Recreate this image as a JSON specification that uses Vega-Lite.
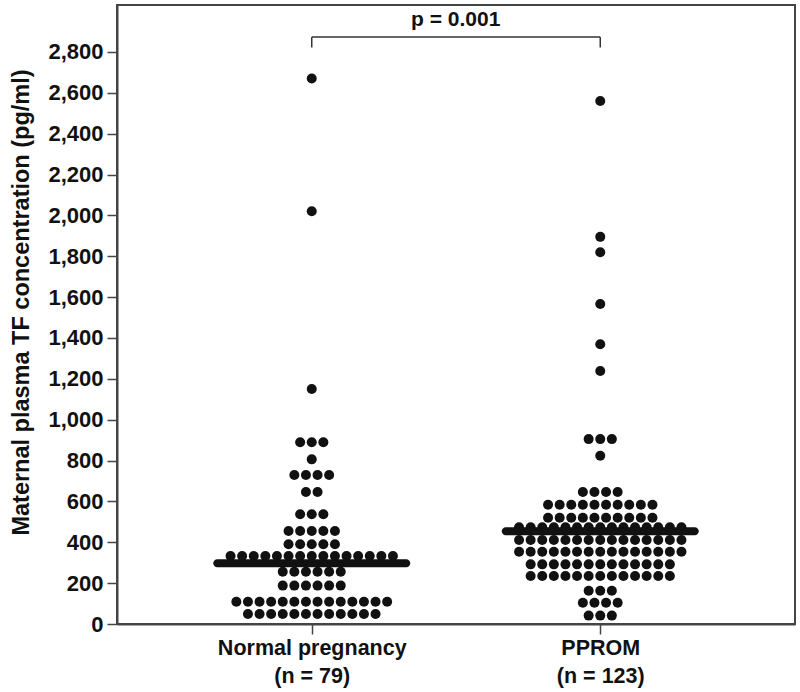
{
  "$schema": "https://vega.github.io/schema/vega-lite/v6.json",
  "width": 678,
  "height": 619,
  "autosize": {"type": "none"},
  "padding": {"left": 117, "top": 5, "right": 5, "bottom": 68},
  "background": "white",
  "config": {
    "view": {"stroke": "#444", "strokeWidth": 2},
    "font": "Liberation Sans"
  },
  "datasets": {
    "dots": [
      {"g": "Normal pregnancy", "v": 2670, "s": 0},
      {"g": "Normal pregnancy", "v": 2020, "s": 0},
      {"g": "Normal pregnancy", "v": 1150, "s": 0},
      {"g": "Normal pregnancy", "v": 890, "s": -1},
      {"g": "Normal pregnancy", "v": 890, "s": 0},
      {"g": "Normal pregnancy", "v": 890, "s": 1},
      {"g": "Normal pregnancy", "v": 806, "s": 0},
      {"g": "Normal pregnancy", "v": 729, "s": -1.5},
      {"g": "Normal pregnancy", "v": 729, "s": -0.5},
      {"g": "Normal pregnancy", "v": 729, "s": 0.5},
      {"g": "Normal pregnancy", "v": 729, "s": 1.5},
      {"g": "Normal pregnancy", "v": 646, "s": -0.5},
      {"g": "Normal pregnancy", "v": 646, "s": 0.5},
      {"g": "Normal pregnancy", "v": 537, "s": -1},
      {"g": "Normal pregnancy", "v": 537, "s": 0},
      {"g": "Normal pregnancy", "v": 537, "s": 1},
      {"g": "Normal pregnancy", "v": 455, "s": -2},
      {"g": "Normal pregnancy", "v": 455, "s": -1},
      {"g": "Normal pregnancy", "v": 455, "s": 0},
      {"g": "Normal pregnancy", "v": 455, "s": 1},
      {"g": "Normal pregnancy", "v": 455, "s": 2},
      {"g": "Normal pregnancy", "v": 390, "s": -2},
      {"g": "Normal pregnancy", "v": 390, "s": -1},
      {"g": "Normal pregnancy", "v": 390, "s": 0},
      {"g": "Normal pregnancy", "v": 390, "s": 1},
      {"g": "Normal pregnancy", "v": 390, "s": 2},
      {"g": "Normal pregnancy", "v": 333, "s": -7},
      {"g": "Normal pregnancy", "v": 333, "s": -6},
      {"g": "Normal pregnancy", "v": 333, "s": -5},
      {"g": "Normal pregnancy", "v": 333, "s": -4},
      {"g": "Normal pregnancy", "v": 333, "s": -3},
      {"g": "Normal pregnancy", "v": 333, "s": -2},
      {"g": "Normal pregnancy", "v": 333, "s": -1},
      {"g": "Normal pregnancy", "v": 333, "s": 0},
      {"g": "Normal pregnancy", "v": 333, "s": 1},
      {"g": "Normal pregnancy", "v": 333, "s": 2},
      {"g": "Normal pregnancy", "v": 333, "s": 3},
      {"g": "Normal pregnancy", "v": 333, "s": 4},
      {"g": "Normal pregnancy", "v": 333, "s": 5},
      {"g": "Normal pregnancy", "v": 333, "s": 6},
      {"g": "Normal pregnancy", "v": 333, "s": 7},
      {"g": "Normal pregnancy", "v": 256, "s": -2.5},
      {"g": "Normal pregnancy", "v": 256, "s": -1.5},
      {"g": "Normal pregnancy", "v": 256, "s": -0.5},
      {"g": "Normal pregnancy", "v": 256, "s": 0.5},
      {"g": "Normal pregnancy", "v": 256, "s": 1.5},
      {"g": "Normal pregnancy", "v": 256, "s": 2.5},
      {"g": "Normal pregnancy", "v": 188, "s": -2.5},
      {"g": "Normal pregnancy", "v": 188, "s": -1.5},
      {"g": "Normal pregnancy", "v": 188, "s": -0.5},
      {"g": "Normal pregnancy", "v": 188, "s": 0.5},
      {"g": "Normal pregnancy", "v": 188, "s": 1.5},
      {"g": "Normal pregnancy", "v": 188, "s": 2.5},
      {"g": "Normal pregnancy", "v": 109, "s": -6.5},
      {"g": "Normal pregnancy", "v": 109, "s": -5.5},
      {"g": "Normal pregnancy", "v": 109, "s": -4.5},
      {"g": "Normal pregnancy", "v": 109, "s": -3.5},
      {"g": "Normal pregnancy", "v": 109, "s": -2.5},
      {"g": "Normal pregnancy", "v": 109, "s": -1.5},
      {"g": "Normal pregnancy", "v": 109, "s": -0.5},
      {"g": "Normal pregnancy", "v": 109, "s": 0.5},
      {"g": "Normal pregnancy", "v": 109, "s": 1.5},
      {"g": "Normal pregnancy", "v": 109, "s": 2.5},
      {"g": "Normal pregnancy", "v": 109, "s": 3.5},
      {"g": "Normal pregnancy", "v": 109, "s": 4.5},
      {"g": "Normal pregnancy", "v": 109, "s": 5.5},
      {"g": "Normal pregnancy", "v": 109, "s": 6.5},
      {"g": "Normal pregnancy", "v": 49, "s": -5.5},
      {"g": "Normal pregnancy", "v": 49, "s": -4.5},
      {"g": "Normal pregnancy", "v": 49, "s": -3.5},
      {"g": "Normal pregnancy", "v": 49, "s": -2.5},
      {"g": "Normal pregnancy", "v": 49, "s": -1.5},
      {"g": "Normal pregnancy", "v": 49, "s": -0.5},
      {"g": "Normal pregnancy", "v": 49, "s": 0.5},
      {"g": "Normal pregnancy", "v": 49, "s": 1.5},
      {"g": "Normal pregnancy", "v": 49, "s": 2.5},
      {"g": "Normal pregnancy", "v": 49, "s": 3.5},
      {"g": "Normal pregnancy", "v": 49, "s": 4.5},
      {"g": "Normal pregnancy", "v": 49, "s": 5.5},
      {"g": "PPROM", "v": 2560, "s": 0},
      {"g": "PPROM", "v": 1895, "s": 0},
      {"g": "PPROM", "v": 1820, "s": 0},
      {"g": "PPROM", "v": 1566, "s": 0},
      {"g": "PPROM", "v": 1369, "s": 0},
      {"g": "PPROM", "v": 1238, "s": 0},
      {"g": "PPROM", "v": 905, "s": -1},
      {"g": "PPROM", "v": 905, "s": 0},
      {"g": "PPROM", "v": 905, "s": 1},
      {"g": "PPROM", "v": 824, "s": 0},
      {"g": "PPROM", "v": 646, "s": -1.5},
      {"g": "PPROM", "v": 646, "s": -0.5},
      {"g": "PPROM", "v": 646, "s": 0.5},
      {"g": "PPROM", "v": 646, "s": 1.5},
      {"g": "PPROM", "v": 584, "s": -4.5},
      {"g": "PPROM", "v": 584, "s": -3.5},
      {"g": "PPROM", "v": 584, "s": -2.5},
      {"g": "PPROM", "v": 584, "s": -1.5},
      {"g": "PPROM", "v": 584, "s": -0.5},
      {"g": "PPROM", "v": 584, "s": 0.5},
      {"g": "PPROM", "v": 584, "s": 1.5},
      {"g": "PPROM", "v": 584, "s": 2.5},
      {"g": "PPROM", "v": 584, "s": 3.5},
      {"g": "PPROM", "v": 584, "s": 4.5},
      {"g": "PPROM", "v": 520, "s": -4.5},
      {"g": "PPROM", "v": 520, "s": -3.5},
      {"g": "PPROM", "v": 520, "s": -2.5},
      {"g": "PPROM", "v": 520, "s": -1.5},
      {"g": "PPROM", "v": 520, "s": -0.5},
      {"g": "PPROM", "v": 520, "s": 0.5},
      {"g": "PPROM", "v": 520, "s": 1.5},
      {"g": "PPROM", "v": 520, "s": 2.5},
      {"g": "PPROM", "v": 520, "s": 3.5},
      {"g": "PPROM", "v": 520, "s": 4.5},
      {"g": "PPROM", "v": 473, "s": -7},
      {"g": "PPROM", "v": 473, "s": -6},
      {"g": "PPROM", "v": 473, "s": -5},
      {"g": "PPROM", "v": 473, "s": -4},
      {"g": "PPROM", "v": 473, "s": -3},
      {"g": "PPROM", "v": 473, "s": -2},
      {"g": "PPROM", "v": 473, "s": -1},
      {"g": "PPROM", "v": 473, "s": 0},
      {"g": "PPROM", "v": 473, "s": 1},
      {"g": "PPROM", "v": 473, "s": 2},
      {"g": "PPROM", "v": 473, "s": 3},
      {"g": "PPROM", "v": 473, "s": 4},
      {"g": "PPROM", "v": 473, "s": 5},
      {"g": "PPROM", "v": 473, "s": 6},
      {"g": "PPROM", "v": 473, "s": 7},
      {"g": "PPROM", "v": 411, "s": -7},
      {"g": "PPROM", "v": 411, "s": -6},
      {"g": "PPROM", "v": 411, "s": -5},
      {"g": "PPROM", "v": 411, "s": -4},
      {"g": "PPROM", "v": 411, "s": -3},
      {"g": "PPROM", "v": 411, "s": -2},
      {"g": "PPROM", "v": 411, "s": -1},
      {"g": "PPROM", "v": 411, "s": 0},
      {"g": "PPROM", "v": 411, "s": 1},
      {"g": "PPROM", "v": 411, "s": 2},
      {"g": "PPROM", "v": 411, "s": 3},
      {"g": "PPROM", "v": 411, "s": 4},
      {"g": "PPROM", "v": 411, "s": 5},
      {"g": "PPROM", "v": 411, "s": 6},
      {"g": "PPROM", "v": 411, "s": 7},
      {"g": "PPROM", "v": 354, "s": -7},
      {"g": "PPROM", "v": 354, "s": -6},
      {"g": "PPROM", "v": 354, "s": -5},
      {"g": "PPROM", "v": 354, "s": -4},
      {"g": "PPROM", "v": 354, "s": -3},
      {"g": "PPROM", "v": 354, "s": -2},
      {"g": "PPROM", "v": 354, "s": -1},
      {"g": "PPROM", "v": 354, "s": 0},
      {"g": "PPROM", "v": 354, "s": 1},
      {"g": "PPROM", "v": 354, "s": 2},
      {"g": "PPROM", "v": 354, "s": 3},
      {"g": "PPROM", "v": 354, "s": 4},
      {"g": "PPROM", "v": 354, "s": 5},
      {"g": "PPROM", "v": 354, "s": 6},
      {"g": "PPROM", "v": 354, "s": 7},
      {"g": "PPROM", "v": 292, "s": -6},
      {"g": "PPROM", "v": 292, "s": -5},
      {"g": "PPROM", "v": 292, "s": -4},
      {"g": "PPROM", "v": 292, "s": -3},
      {"g": "PPROM", "v": 292, "s": -2},
      {"g": "PPROM", "v": 292, "s": -1},
      {"g": "PPROM", "v": 292, "s": 0},
      {"g": "PPROM", "v": 292, "s": 1},
      {"g": "PPROM", "v": 292, "s": 2},
      {"g": "PPROM", "v": 292, "s": 3},
      {"g": "PPROM", "v": 292, "s": 4},
      {"g": "PPROM", "v": 292, "s": 5},
      {"g": "PPROM", "v": 292, "s": 6},
      {"g": "PPROM", "v": 235, "s": -6},
      {"g": "PPROM", "v": 235, "s": -5},
      {"g": "PPROM", "v": 235, "s": -4},
      {"g": "PPROM", "v": 235, "s": -3},
      {"g": "PPROM", "v": 235, "s": -2},
      {"g": "PPROM", "v": 235, "s": -1},
      {"g": "PPROM", "v": 235, "s": 0},
      {"g": "PPROM", "v": 235, "s": 1},
      {"g": "PPROM", "v": 235, "s": 2},
      {"g": "PPROM", "v": 235, "s": 3},
      {"g": "PPROM", "v": 235, "s": 4},
      {"g": "PPROM", "v": 235, "s": 5},
      {"g": "PPROM", "v": 235, "s": 6},
      {"g": "PPROM", "v": 163, "s": -1},
      {"g": "PPROM", "v": 163, "s": 0},
      {"g": "PPROM", "v": 163, "s": 1},
      {"g": "PPROM", "v": 104, "s": -1.5},
      {"g": "PPROM", "v": 104, "s": -0.5},
      {"g": "PPROM", "v": 104, "s": 0.5},
      {"g": "PPROM", "v": 104, "s": 1.5},
      {"g": "PPROM", "v": 41, "s": -1},
      {"g": "PPROM", "v": 41, "s": 0},
      {"g": "PPROM", "v": 41, "s": 1}
    ],
    "medians": [
      {"g": "Normal pregnancy", "v": 297},
      {"g": "PPROM", "v": 454}
    ],
    "bracketH": [
      {"g": "Normal pregnancy", "g2": "PPROM", "v": 2873}
    ],
    "bracketV": [
      {"g": "Normal pregnancy", "v": 2822, "v2": 2873},
      {"g": "PPROM", "v": 2822, "v2": 2873}
    ],
    "annot": [
      {"g": "Normal pregnancy", "v": 2925, "label": "p = 0.001"}
    ]
  },
  "layer": [
    {
      "data": {"name": "dots"},
      "mark": {"type": "circle", "size": 100, "opacity": 1, "color": "#111"},
      "encoding": {
        "x": {
          "field": "g", "type": "nominal",
          "scale": {"type": "point", "padding": 0.675, "domain": ["Normal pregnancy", "PPROM"]},
          "axis": {
            "title": null,
            "labelExpr": "datum.value == 'PPROM' ? ['PPROM', '(n = 123)'] : ['Normal pregnancy', '(n = 79)']",
            "labelAngle": 0,
            "labelFontSize": 21.5,
            "labelFontWeight": "bold",
            "labelColor": "#111",
            "labelLineHeight": 28,
            "labelLimit": 0,
            "labelPadding": 3,
            "tickSize": 10,
            "tickColor": "#444",
            "tickWidth": 1.5,
            "domainColor": "#444",
            "domainWidth": 2
          }
        },
        "xOffset": {"field": "s", "type": "quantitative", "scale": {"domain": [-7, 7], "range": [-81.2, 81.2]}},
        "y": {
          "field": "v", "type": "quantitative",
          "scale": {"domain": [0, 3030], "nice": false, "zero": true},
          "axis": {
            "title": "Maternal plasma TF concentration (pg/ml)",
            "titleFontSize": 23.5,
            "titleFontWeight": "bold",
            "titleColor": "#111",
            "titlePadding": 14,
            "titleY": 297,
            "values": [0, 200, 400, 600, 800, 1000, 1200, 1400, 1600, 1800, 2000, 2200, 2400, 2600, 2800],
            "format": ",d",
            "grid": false,
            "labelFontSize": 22,
            "labelFontWeight": "bold",
            "labelColor": "#111",
            "labelPadding": 4,
            "tickSize": 10,
            "tickColor": "#444",
            "tickWidth": 1.5,
            "domainColor": "#444",
            "domainWidth": 2
          }
        }
      }
    },
    {
      "data": {"name": "medians"},
      "mark": {"type": "tick", "size": 197, "thickness": 8, "cornerRadius": 4, "color": "#111", "opacity": 1},
      "encoding": {
        "x": {"field": "g", "type": "nominal"},
        "y": {"field": "v", "type": "quantitative"}
      }
    },
    {
      "data": {"name": "bracketH"},
      "mark": {"type": "rule", "color": "#333", "strokeWidth": 1.5},
      "encoding": {
        "x": {"field": "g", "type": "nominal"},
        "x2": {"field": "g2"},
        "y": {"field": "v", "type": "quantitative"}
      }
    },
    {
      "data": {"name": "bracketV"},
      "mark": {"type": "rule", "color": "#333", "strokeWidth": 1.5},
      "encoding": {
        "x": {"field": "g", "type": "nominal"},
        "y": {"field": "v", "type": "quantitative"},
        "y2": {"field": "v2"}
      }
    },
    {
      "data": {"name": "annot"},
      "mark": {"type": "text", "fontSize": 21, "fontWeight": "bold", "color": "#111", "align": "center", "baseline": "alphabetic", "dx": 144},
      "encoding": {
        "x": {"field": "g", "type": "nominal"},
        "y": {"field": "v", "type": "quantitative"},
        "text": {"field": "label"}
      }
    }
  ]
}
